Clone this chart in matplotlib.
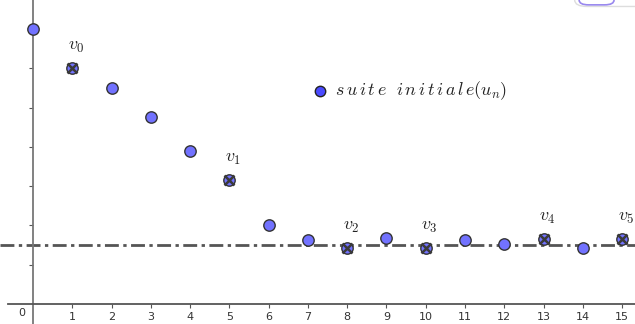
import numpy as np
import matplotlib.pyplot as plt
from matplotlib.patches import FancyBboxPatch

## ==========Data
n = list(range(16))
u = [7.0, 6.0, 5.5, 4.76, 3.9, 3.16, 2.0, 1.63, 1.43, 1.69, 1.43, 1.64, 1.53, 1.65, 1.43, 1.65]
v_idx = [1, 5, 8, 10, 13, 15]
v_names = ['v_0', 'v_1', 'v_2', 'v_3', 'v_4', 'v_5']
limit = 1.5
xtick_labels = [str(k) for k in range(1, 16)]

plt.rcParams['mathtext.fontset'] = 'cm'

fig = plt.figure(figsize=(6.35, 3.24), dpi=100)
ax = fig.add_axes([0, 0, 1, 1])
ax.set_xlim(-0.84, 15.33)
ax.set_ylim(-0.51, 7.74)

## ==========Axes through origin
for side in ['top', 'right']:
    ax.spines[side].set_visible(False)
ax.spines['left'].set_position(('data', 0))
ax.spines['bottom'].set_position(('data', 0))
ax.spines['left'].set_color('#777777')
ax.spines['bottom'].set_color('#555555')
ax.spines['left'].set_linewidth(1.3)
ax.spines['bottom'].set_linewidth(1.3)
ax.spines['bottom'].set_bounds(-0.64, 15.33)

ax.set_xticks(range(1, 16))
ax.set_xticklabels(xtick_labels)
ax.set_yticks(range(1, 7))
ax.set_yticklabels([])
ax.tick_params(axis='x', direction='out', length=3, color='#555555',
               labelsize=8, labelcolor='#333333', pad=3)
ax.tick_params(axis='y', direction='out', length=3, color='#555555')
ax.text(-0.28, -0.1, '0', fontsize=8, color='#333333', ha='center', va='top')

## ==========Limit line
ax.plot([-0.84, 15.33], [limit, limit], color='#555555', lw=2,
        linestyle=(0, (5, 1.6, 1.2, 1.6)), zorder=2)

## ==========Sequence u_n
ax.plot(n, u, 'o', ms=8.2, mfc='#7272ff', mec='#333333', mew=1.0,
        linestyle='none', zorder=3)

## ==========Subsequence v
vx = np.array(v_idx)
vy = np.array([u[k] for k in v_idx])
ax.plot(vx, vy, 'x', ms=7, mec='#3a3a3a', mew=1.8, linestyle='none', zorder=4)
for x, y, name in zip(vx, vy, v_names):
    ax.text(x + 0.1, y + 0.33, '$' + name + '$', fontsize=13,
            ha='center', va='bottom', color='#222222')

## ==========Legend
ax.plot([7.31], [5.42], 'o', ms=7.5, mfc='#4a4aff', mec='#222222', mew=1.0)
ax.text(7.7, 5.42, r'$s\,u\,i\,t\,e\ \ i\,n\,i\,t\,i\,a\,l\,e(u_n)$',
        fontsize=13, ha='left', va='center', color='#222222')

## ==========Toolbar remnant top right
box = FancyBboxPatch((0.905, 0.98), 0.2, 0.1, boxstyle='round,pad=0,rounding_size=0.02',
                     transform=fig.transFigure, fc='white', ec='#dddddd', lw=1)
fig.patches.append(box)
box2 = FancyBboxPatch((0.912, 0.985), 0.055, 0.08, boxstyle='round,pad=0,rounding_size=0.015',
                      transform=fig.transFigure, fc='white', ec='#9988ee', lw=1.2)
fig.patches.append(box2)

fig.savefig('out.png', dpi=100)
